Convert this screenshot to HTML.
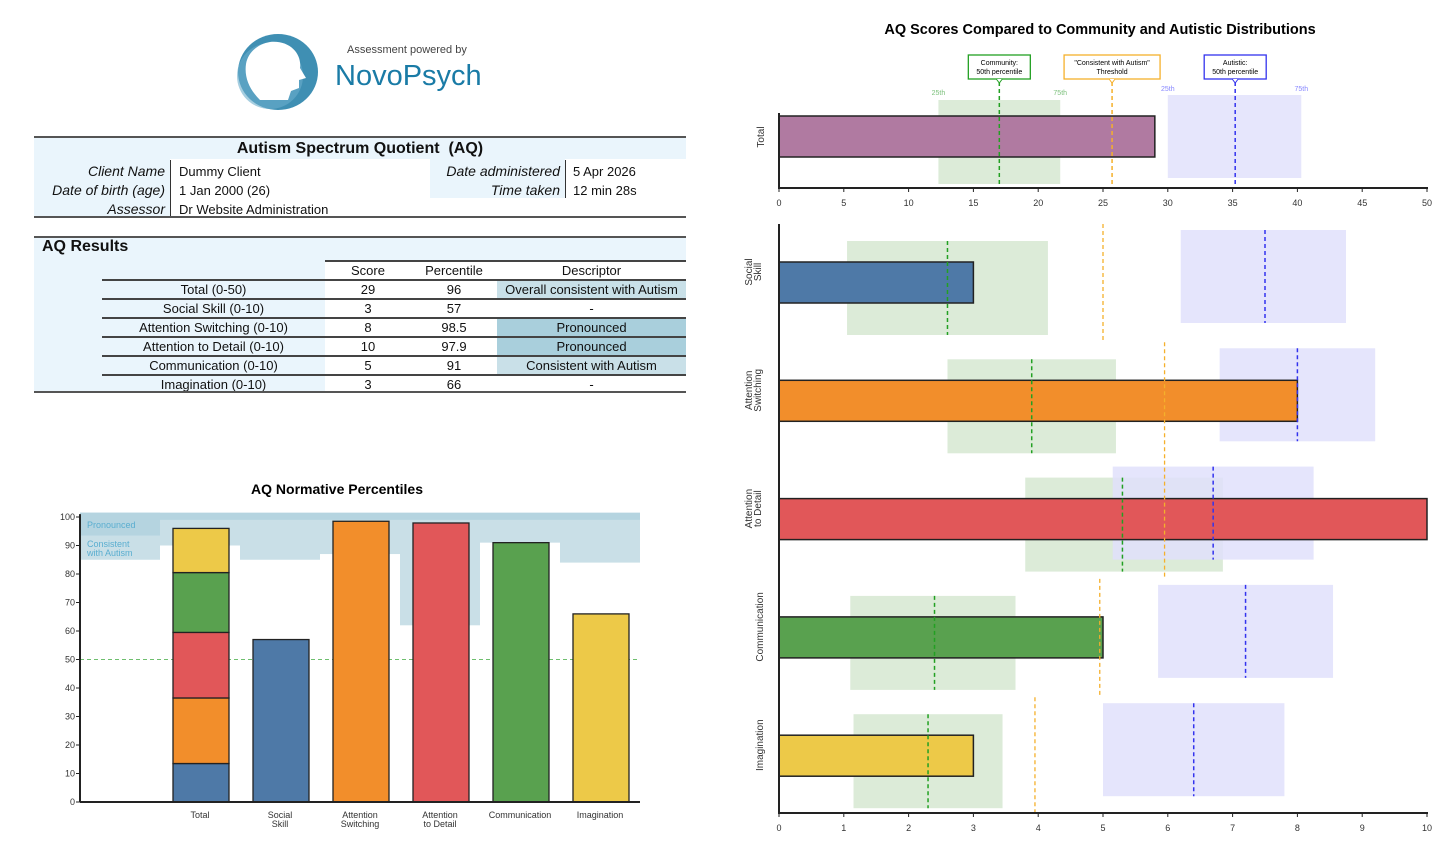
<!DOCTYPE html>
<html><head><meta charset="utf-8">
<style>
body{margin:0;width:1440px;height:863px;background:#fff;font-family:"Liberation Sans",Arial,sans-serif;position:relative;overflow:hidden;color:#111}
.a{position:absolute;white-space:nowrap}
.lb{background:#eaf5fc}
.hl{position:absolute;height:2px;background:#555}
.tl{position:absolute;height:1px;background:#444}
.c{text-align:center}
.r{text-align:right}
.i{font-style:italic}
svg text{font-family:"Liberation Sans",Arial,sans-serif}
</style></head><body>
<!-- logo -->
<svg class="a" style="left:236px;top:32px" width="90" height="80">
<ellipse cx="42" cy="40" rx="40" ry="38" fill="#3f8fb3"/>
<ellipse cx="34" cy="44" rx="33" ry="33" fill="#6aadcb" opacity=".6"/>
<path d="M34 10 C54 8 66 22 64 36 L70 46 L63 48 L63 56 L55 59 L52 68 L24 68 C14 58 8 46 10 32 C12 20 22 12 34 10Z" fill="#fff"/>
</svg>
<div class="a" style="left:347px;top:44px;font-size:11px;color:#444">Assessment powered by</div>
<div class="a" style="left:335px;top:60px;font-size:29px;color:#1a7ba6">NovoPsych</div>

<!-- header table -->
<div class="hl" style="left:34px;top:136px;width:652px"></div>
<div class="a lb c" style="left:34px;top:138px;width:652px;height:21px;font-size:16px;font-weight:bold;line-height:21px">Autism Spectrum Quotient &nbsp;(AQ)</div>
<div class="a lb" style="left:34px;top:159px;width:136px;height:57px"></div>
<div class="a lb" style="left:430px;top:159px;width:135px;height:39px"></div>
<div class="a" style="left:170px;top:160px;width:1px;height:56px;background:#333"></div>
<div class="a" style="left:565px;top:160px;width:1px;height:38px;background:#333"></div>
<div class="a r i" style="left:34px;top:162px;width:131px;font-size:14px;line-height:19px">Client Name<br>Date of birth (age)<br>Assessor</div>
<div class="a" style="left:179px;top:162px;font-size:13px;line-height:19px">Dummy Client<br>1 Jan 2000 (26)<br>Dr Website Administration</div>
<div class="a r i" style="left:430px;top:162px;width:130px;font-size:14px;line-height:19px">Date administered<br>Time taken</div>
<div class="a" style="left:573px;top:162px;font-size:13px;line-height:19px">5 Apr 2026<br>12 min 28s</div>
<div class="hl" style="left:34px;top:216px;width:652px"></div>

<!-- results table -->
<div class="hl" style="left:34px;top:236px;width:652px"></div>
<div class="a lb" style="left:34px;top:238px;width:652px;height:22px"></div>
<div class="a lb" style="left:34px;top:260px;width:291px;height:131px"></div>
<div class="a" style="left:42px;top:238px;font-size:16px;font-weight:bold">AQ Results</div>
<div class="tl" style="left:325px;top:260px;width:361px;height:2px"></div>
<div id="rt"></div>
<div class="hl" style="left:34px;top:391px;width:652px"></div>

<!-- left chart -->
<svg id="lc" class="a" style="left:0;top:470px" width="700" height="380"></svg>
<!-- right chart -->
<svg id="rc" class="a" style="left:720px;top:0" width="720" height="863"></svg>

<script>
// results table
const rowLabels=["Total (0-50)","Social Skill (0-10)","Attention Switching (0-10)","Attention to Detail (0-10)","Communication (0-10)","Imagination (0-10)"];
const rowScores=["29","3","8","10","5","3"];
const rowPct=["96","57","98.5","97.9","91","66"];
const rowDesc=["Overall consistent with Autism","-","Pronounced","Pronounced","Consistent with Autism","-"];
const rt=document.getElementById('rt');
let h='';
h+='<div class="a c" style="left:325px;top:263px;width:86px;font-size:13px">Score</div>';
h+='<div class="a c" style="left:411px;top:263px;width:86px;font-size:13px">Percentile</div>';
h+='<div class="a c" style="left:497px;top:263px;width:189px;font-size:13px">Descriptor</div>';
rowLabels.forEach((l,k)=>{
 const y=280+k*19;
 h+='<div class="tl" style="left:102px;top:'+(y-1)+'px;width:584px;height:2px"></div>';
 const bg=rowDesc[k]==="Pronounced"?"#a9cfdc":(rowDesc[k]==="-"?"transparent":"#c9e0e8");
 h+='<div class="a" style="left:497px;top:'+(y+1)+'px;width:189px;height:18px;background:'+bg+'"></div>';
 h+='<div class="a c" style="left:102px;top:'+(y+2)+'px;width:223px;font-size:13px">'+l+'</div>';
 h+='<div class="a c" style="left:325px;top:'+(y+2)+'px;width:86px;font-size:13px">'+rowScores[k]+'</div>';
 h+='<div class="a c" style="left:411px;top:'+(y+2)+'px;width:86px;font-size:13px">'+rowPct[k]+'</div>';
 h+='<div class="a c" style="left:497px;top:'+(y+2)+'px;width:189px;font-size:13px">'+rowDesc[k]+'</div>';
});
rt.innerHTML=h;

const NS="http://www.w3.org/2000/svg";
function el(svg,t,a,txt){const e=document.createElementNS(NS,t);for(const k in a)e.setAttribute(k,a[k]);if(txt!==undefined)e.textContent=txt;svg.appendChild(e);return e;}

// ---- left chart ----
const pctCategories=["Total","Social\nSkill","Attention\nSwitching","Attention\nto Detail","Communication","Imagination"];
const pctValues=[96,57,98.5,97.9,91,66];
const totalStack=[13.5,23,23,21,15.5]; // blue, orange, red, green, yellow segments
const thresholds=[85,90,85,87,62,91,84]; // per slot (slot0 = legend column)
const pctTicks=[0,10,20,30,40,50,60,70,80,90,100];
const colors=["#4e79a7","#f28e2b","#e15759","#59a14f","#edc948"];
const barColors=["#4e79a7","#f28e2b","#e15759","#59a14f","#edc948"];
const L=document.getElementById('lc');
const ly=v=>332-v*2.85;
const lx=i=>80+i*80;
el(L,'text',{x:337,y:24,'text-anchor':'middle','font-size':14,'font-weight':'bold'},"AQ Normative Percentiles");
thresholds.forEach((t,i)=>{
 const r=el(L,'rect',{x:lx(i),y:ly(101.5),width:80,height:ly(t)-ly(101.5),fill:'#c9dfe7'});
 
 el(L,'rect',{x:lx(i),y:ly(101.5),width:80,height:ly(99)-ly(101.5),fill:'#b5d4e0'});
});
el(L,'rect',{x:80,y:ly(101.5),width:80,height:ly(93.5)-ly(101.5),fill:'#b5d4e0'});
el(L,'text',{x:87,y:ly(97.5)+4,'font-size':9,fill:'#5aaed0'},"Pronounced");
el(L,'text',{x:87,y:ly(90.5)+3,'font-size':9,fill:'#5aaed0'},"Consistent");
el(L,'text',{x:87,y:ly(90.5)+12,'font-size':9,fill:'#5aaed0'},"with Autism");
el(L,'line',{x1:80,x2:640,y1:ly(50),y2:ly(50),stroke:'#6fbf6f','stroke-dasharray':'4,3','stroke-width':1});
let acc=0;
totalStack.forEach((s,k)=>{
 const r=el(L,'rect',{x:lx(1)+13,y:ly(acc+s),width:56,height:ly(acc)-ly(acc+s),fill:colors[k],stroke:'#222','stroke-width':1.3});
 
 acc+=s;
});
pctValues.forEach((v,i)=>{
 if(i>0){const r=el(L,'rect',{x:lx(i+1)+13,y:ly(v),width:56,height:ly(0)-ly(v),fill:barColors[i-1],stroke:'#222','stroke-width':1.3});
 }
 const lines=pctCategories[i].split("\n");
 lines.forEach((t,j)=>el(L,'text',{x:lx(i+1)+40,y:348+j*9,'text-anchor':'middle','font-size':9,fill:'#333'},t));
});
el(L,'line',{x1:80,x2:80,y1:ly(101),y2:ly(0),stroke:'#222','stroke-width':2});
el(L,'line',{x1:80,x2:640,y1:ly(0),y2:ly(0),stroke:'#222','stroke-width':2});
pctTicks.forEach(t=>{el(L,'line',{x1:76,x2:80,y1:ly(t),y2:ly(t),stroke:'#222'});
 el(L,'text',{x:75,y:ly(t)+3,'text-anchor':'end','font-size':9,fill:'#333'},t);});

// ---- right chart ----
const R=document.getElementById('rc');
const ox=59;
el(R,'text',{x:380,y:34,'text-anchor':'middle','font-size':14.5,'font-weight':'bold'},"AQ Scores Compared to Community and Autistic Distributions");
const totalScore=29;
const totalCommunity=[12.3,17,21.7];
const totalAutistic=[30,35.2,40.3];
const totalThreshold=25.7;
const topTicks=[0,5,10,15,20,25,30,35,40,45,50];
const tx=v=>ox+v*12.96;
el(R,'rect',{x:tx(totalCommunity[0]),y:100,width:tx(totalCommunity[2])-tx(totalCommunity[0]),height:84,fill:'#dcebd8'});
el(R,'rect',{x:tx(totalAutistic[0]),y:95,width:tx(totalAutistic[2])-tx(totalAutistic[0]),height:83,fill:'#e6e6fc'});
el(R,'text',{x:tx(totalCommunity[0]),y:95,'text-anchor':'middle','font-size':7,fill:'#7cc07c'},"25th");
el(R,'text',{x:tx(totalCommunity[2]),y:95,'text-anchor':'middle','font-size':7,fill:'#7cc07c'},"75th");
el(R,'text',{x:tx(totalAutistic[0]),y:91,'text-anchor':'middle','font-size':7,fill:'#8888ff'},"25th");
el(R,'text',{x:tx(totalAutistic[2]),y:91,'text-anchor':'middle','font-size':7,fill:'#8888ff'},"75th");
const tb=el(R,'rect',{x:tx(0),y:116,width:tx(totalScore)-tx(0),height:41,fill:'#b07aa1',stroke:'#222','stroke-width':1.5});

el(R,'line',{x1:tx(totalCommunity[1]),x2:tx(totalCommunity[1]),y1:82,y2:188,stroke:'#22a022','stroke-dasharray':'4,3','stroke-width':1.5});
el(R,'line',{x1:tx(totalThreshold),x2:tx(totalThreshold),y1:82,y2:188,stroke:'#f5b02b','stroke-dasharray':'4,3','stroke-width':1.5});
el(R,'line',{x1:tx(totalAutistic[1]),x2:tx(totalAutistic[1]),y1:82,y2:188,stroke:'#3333ee','stroke-dasharray':'4,3','stroke-width':1.5});
function callout(x,w,col,l1,l2){el(R,'rect',{x:x-w/2,y:55,width:w,height:24,fill:'#fff',stroke:col,'stroke-width':1.3});
 el(R,'path',{d:`M${x-3} 79 L${x} 83 L${x+3} 79`,fill:'#fff',stroke:col});
 el(R,'text',{x:x,y:65,'text-anchor':'middle','font-size':7},l1);el(R,'text',{x:x,y:74,'text-anchor':'middle','font-size':7},l2);}
callout(tx(totalCommunity[1]),62,'#22a022',"Community:","50th percentile");
callout(tx(totalThreshold),96,'#f5b02b','"Consistent with Autism"',"Threshold");
callout(tx(totalAutistic[1]),62,'#3333ee',"Autistic:","50th percentile");
el(R,'line',{x1:ox,x2:ox,y1:113,y2:189,stroke:'#222','stroke-width':2});
el(R,'line',{x1:ox,x2:708,y1:188,y2:188,stroke:'#222','stroke-width':2});
topTicks.forEach(t=>{el(R,'line',{x1:tx(t),x2:tx(t),y1:188,y2:192,stroke:'#222'});
 el(R,'text',{x:tx(t),y:206,'text-anchor':'middle','font-size':9,fill:'#333'},t);});
el(R,'text',{x:0,y:0,'font-size':10,fill:'#333',transform:`translate(44,137) rotate(-90)`,'text-anchor':'middle'},"Total");

const subLabels=[["Social","Skill"],["Attention","Switching"],["Attention","to Detail"],["Communication"],["Imagination"]];
const subScores=[3,8,10,5,3];
const subCommunity=[[1.05,2.6,4.15],[2.6,3.9,5.2],[3.8,5.3,6.85],[1.1,2.4,3.65],[1.15,2.3,3.45]];
const subAutistic=[[6.2,7.5,8.75],[6.8,8.0,9.2],[5.15,6.7,8.25],[5.85,7.2,8.55],[5.0,6.4,7.8]];
const subThreshold=[5.0,5.95,5.95,4.95,3.95];
const subColors=["#4e79a7","#f28e2b","#e15759","#59a14f","#edc948"];
const botTicks=[0,1,2,3,4,5,6,7,8,9,10];
const bx=v=>ox+v*64.8;
const rowC=k=>282+k*118.3;
subScores.forEach((s,k)=>{
 const c=rowC(k);
 el(R,'rect',{x:bx(subCommunity[k][0]),y:c-41,width:bx(subCommunity[k][2])-bx(subCommunity[k][0]),height:94,fill:'#dcebd8'});
 el(R,'rect',{x:bx(subAutistic[k][0]),y:c-52,width:bx(subAutistic[k][2])-bx(subAutistic[k][0]),height:93,fill:'#e0e0fc',opacity:.85});
 const r=el(R,'rect',{x:bx(0),y:c-20,width:bx(s)-bx(0),height:41,fill:subColors[k],stroke:'#222','stroke-width':1.5});
 
 el(R,'line',{x1:bx(subCommunity[k][1]),x2:bx(subCommunity[k][1]),y1:c-41,y2:c+53,stroke:'#22a022','stroke-dasharray':'4,3','stroke-width':1.5});
 el(R,'line',{x1:bx(subThreshold[k]),x2:bx(subThreshold[k]),y1:c-58,y2:c+59,stroke:'#f5b02b','stroke-dasharray':'4,3','stroke-width':1.3});
 el(R,'line',{x1:bx(subAutistic[k][1]),x2:bx(subAutistic[k][1]),y1:c-52,y2:c+41,stroke:'#3333ee','stroke-dasharray':'4,3','stroke-width':1.5});
 const lbl=subLabels[k];
 lbl.forEach((t,j)=>el(R,'text',{x:0,y:0,'font-size':10,fill:'#333','text-anchor':'middle',transform:`translate(${lbl.length>1?32+j*9:43},${c-10}) rotate(-90)`},t));
});
el(R,'line',{x1:ox,x2:ox,y1:224,y2:814,stroke:'#222','stroke-width':2});
el(R,'line',{x1:ox,x2:708,y1:813,y2:813,stroke:'#222','stroke-width':2});
botTicks.forEach(t=>{el(R,'line',{x1:bx(t),x2:bx(t),y1:813,y2:817,stroke:'#222'});
 el(R,'text',{x:bx(t),y:831,'text-anchor':'middle','font-size':9,fill:'#333'},t);});
</script>
</body></html>
